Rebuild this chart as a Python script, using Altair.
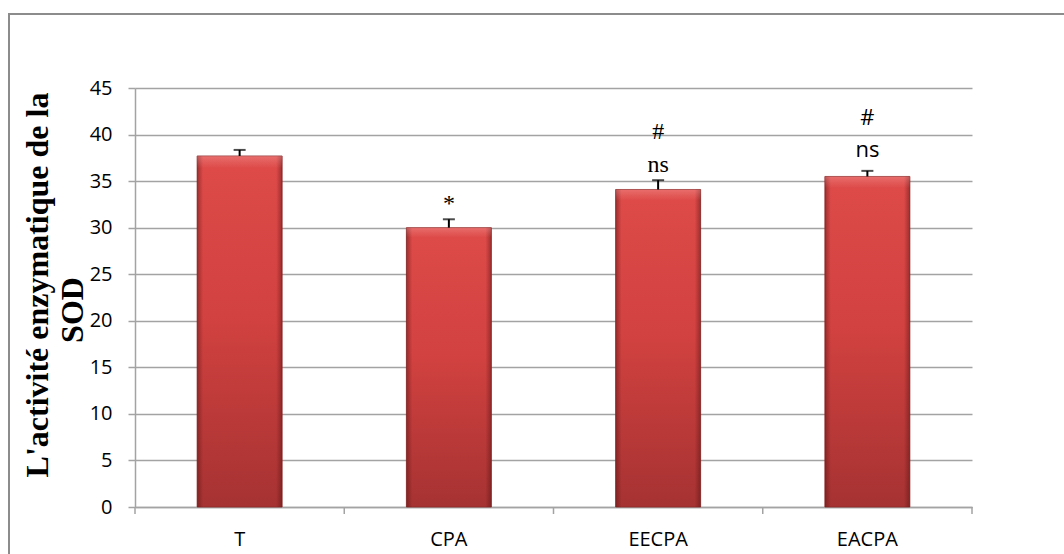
import altair as alt
import pandas as pd

# Superoxide dismutase activity per group (mean with upper error)
groups = ["T", "CPA", "EECPA", "EACPA"]
means = [37.7, 30.0, 34.1, 35.5]
errors = [0.65, 0.9, 1.0, 0.6]

# Significance marks written above each bar
sig_groups = ["CPA", "EECPA", "EECPA", "EACPA", "EACPA"]
sig_texts = ["*", "ns", "#", "ns", "#"]

y_ticks = [0, 5, 10, 15, 20, 25, 30, 35, 40, 45]
title_lines = ["L'activité enzymatique de la", "SOD"]

W, H = 837, 419
GRID = "#a3a3a3"
SANS = "Open Sans"

df = pd.DataFrame({"group": groups, "mean": means, "err": errors})
df["upper"] = df["mean"] + df["err"]

sig = pd.DataFrame({"group": sig_groups, "text": sig_texts})
sig = sig.merge(df[["group", "upper"]], on="group")

x_enc = alt.X(
    "group:N",
    sort=groups,
    scale=alt.Scale(paddingInner=0, paddingOuter=0),
    axis=alt.Axis(
        title=None, ticks=False, labelAngle=0, labelFontSize=20,
        labelFont=SANS, labelColor="#000000", labelPadding=22,
        domainColor=GRID, domainWidth=1.5, grid=False,
    ),
)
y_scale = alt.Scale(domain=[0, 45], nice=False, zero=True)

base = alt.Chart(df)

bar_fill = alt.Gradient(
    gradient="linear",
    stops=[
        alt.GradientStop(color="#de4b49", offset=0),
        alt.GradientStop(color="#d24240", offset=0.45),
        alt.GradientStop(color="#a63232", offset=1),
    ],
    x1=0, x2=0, y1=0, y2=1,
)
bars = base.mark_bar(size=85, fill=bar_fill, stroke="#8e2a2a", strokeWidth=0.8).encode(
    x=x_enc,
    y=alt.Y(
        "mean:Q", scale=y_scale,
        axis=alt.Axis(
            values=y_ticks, title=None, tickSize=7, tickColor=GRID, tickWidth=1.5,
            grid=True, gridColor=GRID, gridWidth=1.5, domainColor=GRID, domainWidth=1.5,
            labelFontSize=20, labelFont=SANS, labelColor="#000000",
            labelPadding=16,
        ),
    ),
)

# darker bevelled sides
side_shade = alt.Gradient(
    gradient="linear",
    stops=[
        alt.GradientStop(color="rgba(80,15,15,0.45)", offset=0),
        alt.GradientStop(color="rgba(80,15,15,0)", offset=0.07),
        alt.GradientStop(color="rgba(80,15,15,0)", offset=0.93),
        alt.GradientStop(color="rgba(80,15,15,0.45)", offset=1),
    ],
    x1=0, x2=1, y1=0, y2=0,
)
sides = base.mark_bar(size=85, fill=side_shade).encode(
    x=alt.X("group:N", sort=groups), y=alt.Y("mean:Q", scale=y_scale)
)

# soft light strip along the top edge
top_shade = alt.Gradient(
    gradient="linear",
    stops=[
        alt.GradientStop(color="rgba(255,190,190,0.30)", offset=0),
        alt.GradientStop(color="rgba(255,190,190,0.12)", offset=0.02),
        alt.GradientStop(color="rgba(255,190,190,0)", offset=0.035),
        alt.GradientStop(color="rgba(255,190,190,0)", offset=1),
    ],
    x1=0, x2=0, y1=0, y2=1,
)
tops = base.mark_bar(size=85, fill=top_shade).encode(
    x=alt.X("group:N", sort=groups), y=alt.Y("mean:Q", scale=y_scale)
)

err_rule = base.mark_rule(color="#000000", strokeWidth=2).encode(
    x=alt.X("group:N", sort=groups), y=alt.Y("mean:Q", scale=y_scale), y2="upper:Q"
)
err_cap = base.mark_tick(color="#000000", size=12, thickness=2).encode(
    x=alt.X("group:N", sort=groups), y=alt.Y("upper:Q", scale=y_scale)
)

# x-axis tick marks on the category boundaries
x_ticks = base.mark_rule(color=GRID, strokeWidth=1.5).encode(
    x=alt.X("group:N", sort=groups, bandPosition=0),
    y=alt.value(H), y2=alt.value(H + 7),
)
x_tick_end = alt.Chart(df.head(1)).mark_rule(color=GRID, strokeWidth=1.5).encode(
    x=alt.value(W), y=alt.value(H), y2=alt.value(H + 7)
)

# significance labels: (row index, vertical offset from the error cap, font, size)
sig_style = [
    (0, -15, "Liberation Serif", 24),
    (1, -15, "Liberation Serif", 24),
    (2, -48, "Liberation Serif", 24),
    (3, -21, SANS, 22),
    (4, -53, SANS, 22),
]
sig_layers = []
for i, dy, font, size in sig_style:
    sig_layers.append(
        alt.Chart(sig.iloc[[i]]).mark_text(
            dy=dy, fontSize=size, font=font, color="#000000", baseline="middle"
        ).encode(
            x=alt.X("group:N", sort=groups),
            y=alt.Y("upper:Q", scale=y_scale),
            text="text:N",
        )
    )

one = pd.DataFrame({"k": [0]})
title_1 = alt.Chart(one).mark_text(
    text=title_lines[0], angle=270, font="Liberation Serif", fontWeight="bold",
    fontSize=32, color="#000000", baseline="alphabetic", align="center",
).encode(x=alt.value(48 - 135), y=alt.value(197))
title_2 = alt.Chart(one).mark_text(
    text=title_lines[1], angle=270, font="Liberation Serif", fontWeight="bold",
    fontSize=32, color="#000000", baseline="alphabetic", align="center",
).encode(x=alt.value(83 - 135), y=alt.value(222))

frame = alt.Chart(one).mark_rect(
    fillOpacity=0, stroke="#8c8c8c", strokeWidth=2
).encode(x=alt.value(-126), x2=alt.value(1000), y=alt.value(-74), y2=alt.value(600))

chart = alt.layer(
    frame, bars, sides, tops, err_rule, err_cap, x_ticks, x_tick_end,
    *sig_layers, title_1, title_2,
).properties(
    width=W, height=H,
    autosize=alt.AutoSizeParams(type="none"),
    padding={"left": 135, "top": 88, "right": 92, "bottom": 47},
    background="#ffffff",
).configure_view(stroke=None)

chart.save("out.html", embed_options={"renderer": "svg", "actions": False})
